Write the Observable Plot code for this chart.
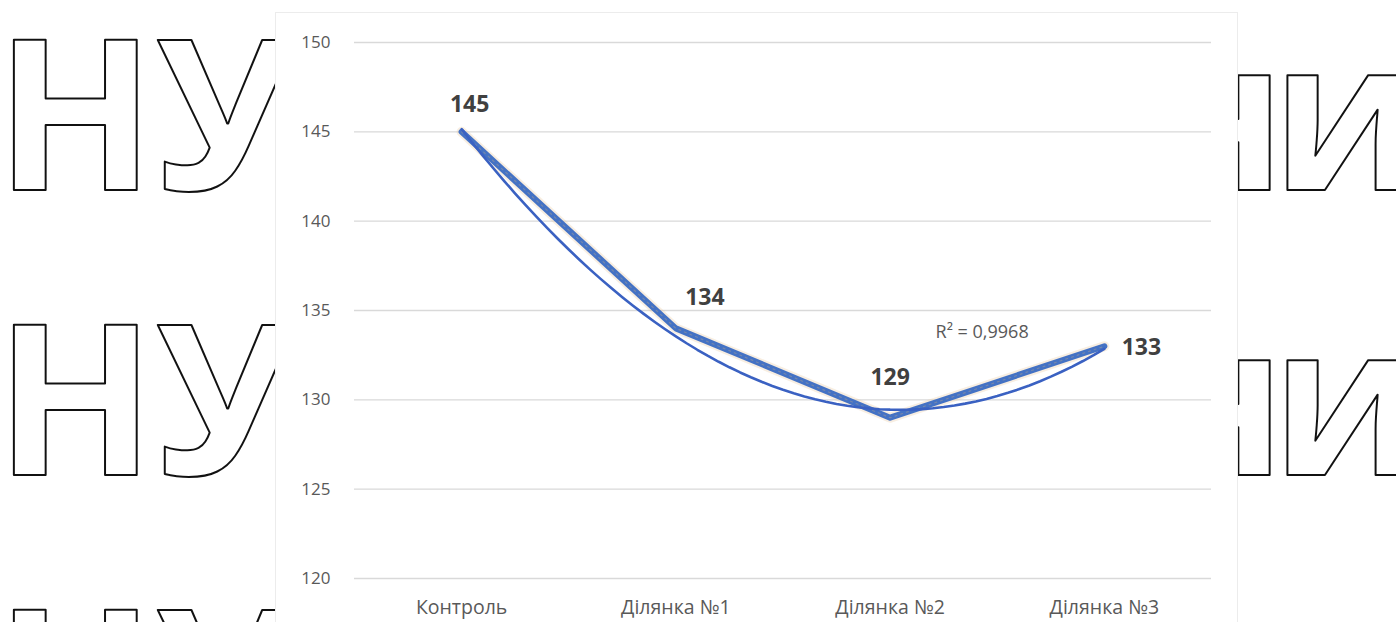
<!DOCTYPE html>
<html><head><meta charset="utf-8">
<script src="https://cdn.jsdelivr.net/npm/d3@7"></script>
<script src="https://cdn.jsdelivr.net/npm/@observablehq/plot@0.6"></script>
<style>
html,body{margin:0;padding:0;background:#fff;}
#wrap{position:relative;width:1396px;height:622px;overflow:hidden;}
#wm{position:absolute;left:0;top:0;}
#panel{position:absolute;left:275px;top:12px;width:963px;height:640px;background:#fff;border:1px solid #ececec;box-sizing:border-box;}
#chart{position:absolute;left:0;top:0;}
</style></head><body>
<div id="wrap"><svg id="wm" width="1396" height="622"></svg><div id="panel"></div><div id="chart"></div></div>
<script>
// ---- data ----
const categories = ["Контроль", "Ділянка №1", "Ділянка №2", "Ділянка №3"];
const values = [145, 134, 129, 133];
const yTicks = [120, 125, 130, 135, 140, 145, 150];
const rSquaredLabel = "R² = 0,9968";
const watermarkLeft = "НУБіП";
const watermarkRight1 = "н";
const watermarkRight2 = "и";

// ---- watermark (background of the page) ----
const wm = d3.select("#wm");
[190, 475, 760].forEach(by => {
  const common = s => s.attr("y", by).attr("font-family", "'Open Sans', sans-serif").attr("font-weight", 700)
    .attr("font-size", 210).attr("fill", "#fff").attr("stroke", "#111").attr("stroke-width", 2)
    .attr("stroke-linejoin", "round");
  common(wm.append("text").attr("x", -5).text(watermarkLeft));
  common(wm.append("text").attr("x", 1286).attr("text-anchor", "end").text(watermarkRight1));
  common(wm.append("text").attr("x", 1271).text(watermarkRight2));
});

// ---- quadratic trendline (least squares on the data) ----
const data = categories.map((c, i) => ({i, c, v: values[i]}));
function quadFit(xs, ys) {
  const S = k => d3.sum(xs, x => x ** k);
  const T = k => d3.sum(xs, (x, j) => ys[j] * x ** k);
  const A = [[S(0), S(1), S(2)], [S(1), S(2), S(3)], [S(2), S(3), S(4)]];
  const B = [T(0), T(1), T(2)];
  const det = m => m[0][0]*(m[1][1]*m[2][2]-m[1][2]*m[2][1]) - m[0][1]*(m[1][0]*m[2][2]-m[1][2]*m[2][0]) + m[0][2]*(m[1][0]*m[2][1]-m[1][1]*m[2][0]);
  const D = det(A);
  return [0, 1, 2].map(c => det(A.map((row, r) => row.map((v, k) => k === c ? B[r] : v))) / D);
}
const coef = quadFit(data.map(d => d.i), values);
const f = x => coef[0] + coef[1] * x + coef[2] * x * x;
const trend = d3.range(0, 3.0001, 0.05).map(x => ({x, y: f(x)}));

const blue = "#4472C4";
const lbl = {fontWeight: "bold", fontSize: 23, fill: "#404040", fontFamily: "'Open Sans', sans-serif"};
const pick = i => data.filter(d => d.i === i);

const plot = Plot.plot({
  width: 1396, height: 622,
  marginLeft: 354, marginRight: 185, marginTop: 42, marginBottom: 44,
  style: {background: "transparent", fontFamily: "'Open Sans', sans-serif"},
  x: {domain: [-0.5, 3.5], axis: null},
  y: {domain: [120, 150], axis: null},
  marks: [
    Plot.ruleY(yTicks, {stroke: "#d9d9d9", strokeWidth: 1.3}),
    Plot.axisY(yTicks, {tickSize: 0, tickPadding: 24, fontSize: 17, fill: "#595959", label: null}),
    Plot.axisX([0, 1, 2, 3], {tickFormat: i => categories[i], tickSize: 0, tickPadding: 22, fontSize: 19.5, fill: "#595959", label: null}),
    Plot.line(data, {x: "i", y: "v", stroke: "#e8c89a", strokeOpacity: 0.3, strokeWidth: 10, strokeLinejoin: "round"}),
    Plot.line(data, {x: "i", y: "v", stroke: blue, strokeWidth: 6, strokeLinejoin: "round", strokeLinecap: "round"}),
    Plot.line(data, {x: "i", y: "v", stroke: "#e2b676", strokeOpacity: 0.3, strokeWidth: 1.2, strokeDasharray: "2 4"}),
    Plot.line(trend, {x: "x", y: "y", stroke: "#3a61c2", strokeWidth: 2.6}),
    Plot.text(pick(0), {x: "i", y: "v", text: d => String(d.v), dx: 8, dy: -27, ...lbl}),
    Plot.text(pick(1), {x: "i", y: "v", text: d => String(d.v), dx: 29, dy: -31, ...lbl}),
    Plot.text(pick(2), {x: "i", y: "v", text: d => String(d.v), dx: 0, dy: -40, ...lbl}),
    Plot.text(pick(3), {x: "i", y: "v", text: d => String(d.v), dx: 37, dy: 1, ...lbl}),
    Plot.text([{x: 2, y: f(2)}], {x: "x", y: "y", text: () => rSquaredLabel, dx: 92, dy: -77, fontSize: 18, fill: "#595959"})
  ]
});
document.getElementById("chart").appendChild(plot);
</script>
</body></html>
